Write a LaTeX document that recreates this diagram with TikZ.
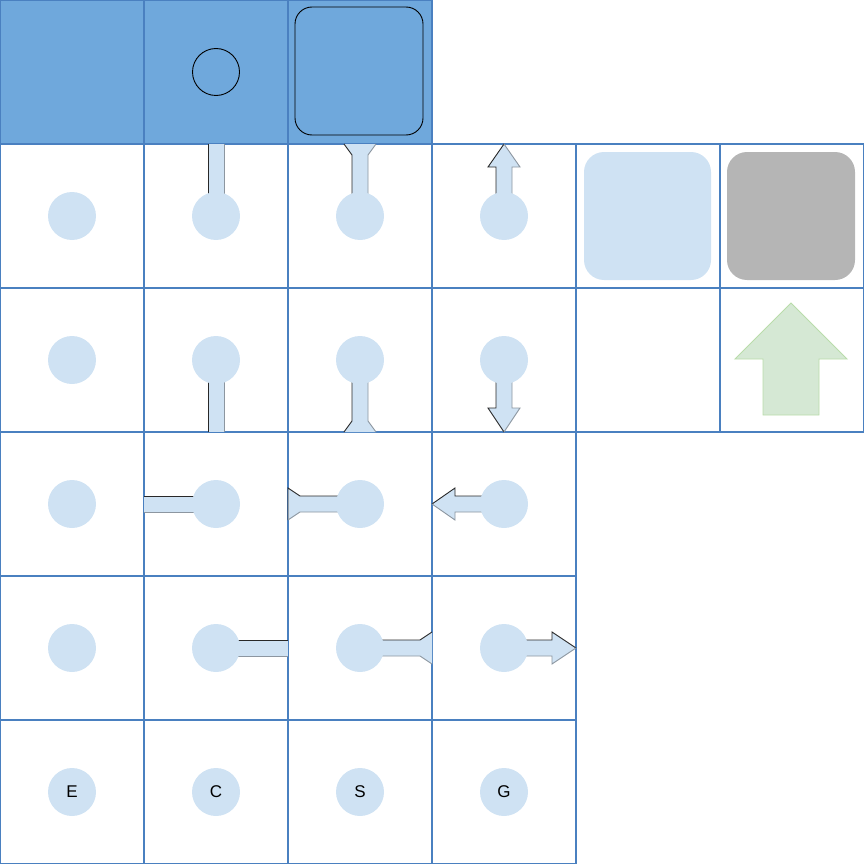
\documentclass[tikz,border=0pt]{standalone}
\usepackage{fontspec}
\setmainfont{Liberation Sans}
\definecolor{gridc}{RGB}{74,128,192}
\definecolor{topfill}{RGB}{111,168,220}
\definecolor{dotc}{RGB}{207,226,243}
\definecolor{grayc}{RGB}{181,181,181}
\definecolor{greenf}{RGB}{213,232,212}
\definecolor{greens}{RGB}{185,220,170}
\definecolor{darkedge}{RGB}{40,40,40}
\definecolor{lightedge}{RGB}{140,150,160}
\newcommand{\labfont}{\fontsize{17}{19}\selectfont}
\begin{document}
\begin{tikzpicture}[x=1pt,y=-1pt,
  cellbox/.style={draw=gridc,line width=1.1pt},
  topcell/.style={cellbox,fill=topfill},
  dot/.style={circle,fill=dotc,minimum size=48pt,inner sep=0pt,draw=none,font=\labfont},
  barfill/.style={fill=dotc,draw=none},
  edgeA/.style={draw=darkedge,line width=0.9pt},
  edgeB/.style={draw=lightedge,line width=0.9pt}]
\useasboundingbox (0,0) rectangle (864,864);
% grid
\foreach \c in {0,1,2} \draw[topcell] (\c*144,0) rectangle ++(144,144);
\foreach \r in {1,2} \foreach \c in {0,...,5} \draw[cellbox] (\c*144,\r*144) rectangle ++(144,144);
\foreach \r in {3,4,5} \foreach \c in {0,...,3} \draw[cellbox] (\c*144,\r*144) rectangle ++(144,144);
% top row shapes
\node[circle,draw=black,line width=0.9pt,minimum size=47pt,inner sep=0pt] (agent) at (216,72) {};
\draw[draw=black,line width=0.9pt,fill=topfill,rounded corners=17pt] (295,7) rectangle (423,135);
\node[fill=dotc,rounded corners=20pt,minimum width=127pt,minimum height=128pt,inner sep=0pt] (lightbox) at (647.5,216) {};
\node[fill=grayc,rounded corners=20pt,minimum width=128pt,minimum height=128pt,inner sep=0pt] (graybox) at (791,216) {};
% green arrow
\draw[fill=greenf,draw=greens,line width=0.9pt] (791,303) -- (847,359) -- (819,359) -- (819,415) -- (763,415) -- (763,359) -- (735,359) -- cycle;
% row 1 connectors
\fill[barfill] (208,144) rectangle (224,216);
\draw[edgeA] (208,144) -- (208,216); \draw[edgeB] (224,144) -- (224,216);
\fill[barfill] (344,144) -- (376,144) -- (368,155) -- (368,216) -- (352,216) -- (352,155) -- cycle;
\draw[edgeA] (344,144) -- (352,155) -- (352,216); \draw[edgeB] (376,144) -- (368,155) -- (368,216);
\fill[barfill] (504,144) -- (520,167) -- (512,167) -- (512,216) -- (496,216) -- (496,167) -- (488,167) -- cycle;
\draw[edgeA] (496,216) -- (496,167) -- (488,167) -- (504,144); \draw[edgeB] (504,144) -- (520,167) -- (512,167) -- (512,216);
% row 2 connectors
\fill[barfill] (208,360) rectangle (224,432);
\draw[edgeA] (208,360) -- (208,432); \draw[edgeB] (224,360) -- (224,432);
\fill[barfill] (352,360) -- (352,421) -- (344,432) -- (376,432) -- (368,421) -- (368,360) -- cycle;
\draw[edgeA] (352,360) -- (352,421) -- (344,432); \draw[edgeB] (368,360) -- (368,421) -- (376,432);
\fill[barfill] (496,360) -- (496,408) -- (488,408) -- (504,432) -- (520,408) -- (512,408) -- (512,360) -- cycle;
\draw[edgeA] (496,360) -- (496,408) -- (488,408) -- (504,432); \draw[edgeB] (504,432) -- (520,408) -- (512,408) -- (512,360);
% row 3 connectors
\fill[barfill] (144,496) rectangle (216,512);
\draw[edgeA] (144,496) -- (216,496); \draw[edgeB] (144,512) -- (216,512);
\fill[barfill] (288,488) -- (300,496) -- (360,496) -- (360,512) -- (300,512) -- (288,520) -- cycle;
\draw[edgeA] (288,520) -- (288,488) -- (300,496) -- (360,496); \draw[edgeB] (288,520) -- (300,512) -- (360,512);
\fill[barfill] (432,504) -- (455,488) -- (455,496) -- (504,496) -- (504,512) -- (455,512) -- (455,520) -- cycle;
\draw[edgeA] (504,496) -- (455,496) -- (455,488) -- (432,504); \draw[edgeB] (432,504) -- (455,520) -- (455,512) -- (504,512);
% row 4 connectors
\fill[barfill] (216,640) rectangle (288,656);
\draw[edgeA] (216,640) -- (288,640); \draw[edgeB] (216,656) -- (288,656);
\fill[barfill] (360,640) -- (420,640) -- (432,632) -- (432,664) -- (420,656) -- (360,656) -- cycle;
\draw[edgeA] (360,640) -- (420,640) -- (432,632); \draw[edgeB] (360,656) -- (420,656) -- (432,664);
\fill[barfill] (504,640) -- (552,640) -- (552,632) -- (576,648) -- (552,664) -- (552,656) -- (504,656) -- cycle;
\draw[edgeA] (504,640) -- (552,640) -- (552,632) -- (576,648); \draw[edgeB] (576,648) -- (552,664) -- (552,656) -- (504,656);
% dots
\foreach \r in {1,2,3,4} \foreach \c in {0,1,2,3}
  \node[dot] (d\c\r) at (\c*144+72,\r*144+72) {};
\node[dot] (dE) at (72,792) {E};
\node[dot] (dC) at (216,792) {C};
\node[dot] (dS) at (360,792) {S};
\node[dot] (dG) at (504,792) {G};
\end{tikzpicture}
\end{document}
